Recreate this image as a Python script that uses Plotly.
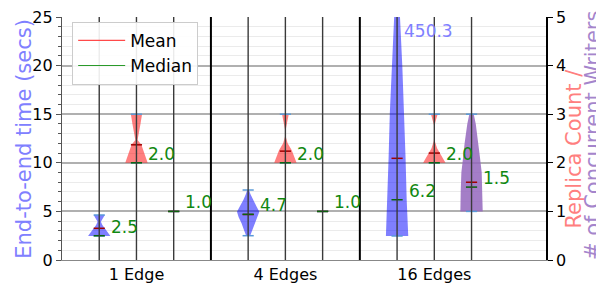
import plotly.graph_objects as go

# ---------------- data ----------------
groups = ["1 Edge", "4 Edges", "16 Edges"]

# End-to-end time (secs): violin density profiles (level, relative density)
time_levels = [
    [2.47, 2.9, 3.3, 3.6, 3.94, 4.3, 4.63],
    [2.5, 3.0, 3.8, 4.4, 4.97, 5.5, 6.2, 6.8, 7.2],
    [2.47, 3.0, 6.2, 10.5, 15.1, 19.9, 25.0, 30.0],
]
time_density = [
    [1.0, 0.72, 0.45, 0.28, 0.15, 0.3, 0.5],
    [0.18, 0.35, 0.6, 0.85, 1.0, 0.75, 0.42, 0.2, 0.08],
    [1.0, 0.98, 0.86, 0.76, 0.65, 0.47, 0.26, 0.1],
]
time_mean = [3.26, 4.68, 10.46]
time_median = [2.5, 4.7, 6.2]
time_min = [2.47, 2.5, 2.47]
time_max = [4.63, 7.2, 450.3]

# Replica count
rep_levels = [
    [2.0, 2.2, 2.37, 2.47, 2.6, 2.8, 3.0],
    [2.0, 2.13, 2.26, 2.4, 2.55, 2.67, 2.85, 3.0],
    [2.0, 2.1, 2.2, 2.3, 2.45, 2.6, 2.78, 2.9, 3.0],
]
rep_density = [
    [1.0, 0.72, 0.44, 0.1, 0.22, 0.36, 0.5],
    [1.0, 0.78, 0.57, 0.2, 0.02, 0.02, 0.15, 0.3],
    [1.0, 0.75, 0.5, 0.25, 0.04, 0.01, 0.03, 0.17, 0.3],
]
rep_mean = [2.37, 2.24, 2.2]
rep_median = [2.0, 2.0, 2.0]
rep_min = [2.0, 2.0, 2.0]
rep_max = [3.0, 3.0, 3.0]

# Number of concurrent writers
wr_levels = [
    [],
    [],
    [1.0, 1.4, 1.8, 2.1, 2.4, 2.6, 2.8, 3.0],
]
wr_density = [
    [],
    [],
    [1.0, 0.97, 0.91, 0.76, 0.62, 0.52, 0.38, 0.2],
]
wr_mean = [1.0, 1.0, 1.6]
wr_median = [1.0, 1.0, 1.5]
wr_min = [1.0, 1.0, 1.0]
wr_max = [1.0, 1.0, 3.0]

left_title = "End-to-end time (secs)"
right_title_1 = "Replica Count /"
right_title_2 = "# of Concurrent Writers"

# ---------------- styling ----------------
FONT = "DejaVu Sans"
HALF_W = 0.3      # max half-width of a violin (x units)
LINE_W = 0.15     # half-length of mean/median/extrema bars
BLUE = "rgba(0,0,255,0.5)"
RED = "rgba(255,0,0,0.5)"
PURPLE = "rgba(148,103,189,0.85)"
MEAN_C = "#a00000"
MED_C = "#0a640a"
CAP_C = "#5a9ad8"
LABEL_C = "#118811"

fig = go.Figure()

series = [
    (time_levels, time_density, time_mean, time_median, time_min, time_max, BLUE, "y", 1),
    (rep_levels, rep_density, rep_mean, rep_median, rep_min, rep_max, RED, "y2", 2),
    (wr_levels, wr_density, wr_mean, wr_median, wr_min, wr_max, PURPLE, "y2", 3),
]

mean_segs = {"y": ([], []), "y2": ([], [])}
med_segs = {"y": ([], []), "y2": ([], [])}
cap_segs = {"y": ([], []), "y2": ([], [])}
labels = []

for levels, dens, means, meds, mins, maxs, color, yax, off in series:
    for g in range(len(groups)):
        xc = 4 * g + off
        lv, dv = levels[g], dens[g]
        if lv:
            xs = [xc + d * HALF_W for d in dv] + [xc - d * HALF_W for d in reversed(dv)]
            ys = list(lv) + list(reversed(lv))
            fig.add_trace(go.Scatter(
                x=xs + [xs[0]], y=ys + [ys[0]], yaxis=yax, mode="lines",
                fill="toself", fillcolor=color, line=dict(width=0),
                showlegend=False, hoverinfo="skip"))
        for segs, v in ((cap_segs, mins[g]), (cap_segs, maxs[g]),
                        (mean_segs, means[g]), (med_segs, meds[g])):
            segs[yax][0].extend([xc - LINE_W, xc + LINE_W, None])
            segs[yax][1].extend([v, v, None])
        labels.append((xc, meds[g], yax))

for segs, c, w in ((cap_segs, CAP_C, 1.5), (mean_segs, MEAN_C, 1.5), (med_segs, MED_C, 1.5)):
    for yax in ("y", "y2"):
        fig.add_trace(go.Scatter(x=segs[yax][0], y=segs[yax][1], yaxis=yax, mode="lines",
                                 line=dict(color=c, width=w), showlegend=False,
                                 hoverinfo="skip", connectgaps=False))

# legend entries
fig.add_trace(go.Scatter(x=[None], y=[None], mode="lines", name="Mean",
                         line=dict(color="#ff4a4a", width=1.2)))
fig.add_trace(go.Scatter(x=[None], y=[None], mode="lines", name="Median",
                         line=dict(color="#2a9a2a", width=1.2)))

# median value labels
for xc, v, yax in labels:
    fig.add_annotation(x=xc + 0.26, y=v, yref=yax, xref="x", text=f"{v:.1f}",
                       showarrow=False, xanchor="left", yanchor="middle", yshift=9,
                       font=dict(family=FONT, size=17, color=LABEL_C))

# value label for the out-of-range maximum
fig.add_annotation(x=9 + 0.12, y=1, yref="paper", xref="x", text=f"{time_max[2]:.1f}",
                   showarrow=False, xanchor="left", yanchor="top", yshift=-2,
                   font=dict(family=FONT, size=17, color="#8080ff"))

# axis titles (placed as rotated annotations in paper coordinates)
for txt, px, py, col in ((left_title, -0.079, 0.498, "#8080ff"),
                         (right_title_1, 1.058, 0.459, "#ff7f7f"),
                         (right_title_2, 1.097, 0.514, "#a585cc")):
    fig.add_annotation(x=px, y=py, xref="paper", yref="paper", text=txt, textangle=-90,
                       showarrow=False, xanchor="center", yanchor="middle",
                       font=dict(family=FONT, size=21, color=col))

# vertical lines: violin centres and group separators
shapes = []
for g in range(len(groups)):
    for off in (1, 2, 3):
        shapes.append(dict(type="line", xref="x", yref="paper", x0=4 * g + off, x1=4 * g + off,
                           y0=0, y1=1, line=dict(color="#3a3a3a", width=1.4), layer="above"))
    if g > 0:
        shapes.append(dict(type="line", xref="x", yref="paper", x0=4 * g, x1=4 * g,
                           y0=0, y1=1, line=dict(color="black", width=2), layer="above"))

# the page body adds an 8px margin, so the figure is 8px smaller than the window
fig.update_layout(
    width=596, height=279,
    margin=dict(l=54, r=58, t=9, b=27, autoexpand=False),
    paper_bgcolor="white", plot_bgcolor="white",
    font=dict(family=FONT, size=16, color="black"),
    shapes=shapes,
    showlegend=True,
    legend=dict(x=0.021, y=0.98, xanchor="left", yanchor="top",
                bgcolor="rgba(255,255,255,0.9)", bordercolor="#cccccc", borderwidth=1,
                font=dict(family=FONT, size=17, color="black"), itemwidth=47,
                tracegroupgap=0),
    xaxis=dict(range=[0, 13], tickvals=[2, 6, 10], ticktext=groups, showgrid=False,
               zeroline=False, showline=True, linecolor="#888888", linewidth=1.2,
               ticks="", tickfont=dict(size=16), automargin=False),
    yaxis=dict(range=[0, 25], tick0=0, dtick=5, showgrid=True, gridcolor="#b0b0b0",
               gridwidth=1.5, zeroline=False, showline=True, linecolor="#555555",
               linewidth=1.2, ticks="outside", ticklen=5, tickcolor="#555555",
               automargin=False, ticklabeloverflow="allow",
               minor=dict(dtick=1, ticks="outside", ticklen=3, tickcolor="#555555",
                          showgrid=True, gridcolor="#ebebeb", gridwidth=1)),
    yaxis2=dict(range=[0, 5], dtick=1, overlaying="y", side="right", showgrid=False,
                zeroline=False, showline=True, linecolor="black", linewidth=1.5,
                ticks="outside", ticklen=5, tickcolor="black", automargin=False,
                ticklabeloverflow="allow"),
)

fig.write_html("out.html")
